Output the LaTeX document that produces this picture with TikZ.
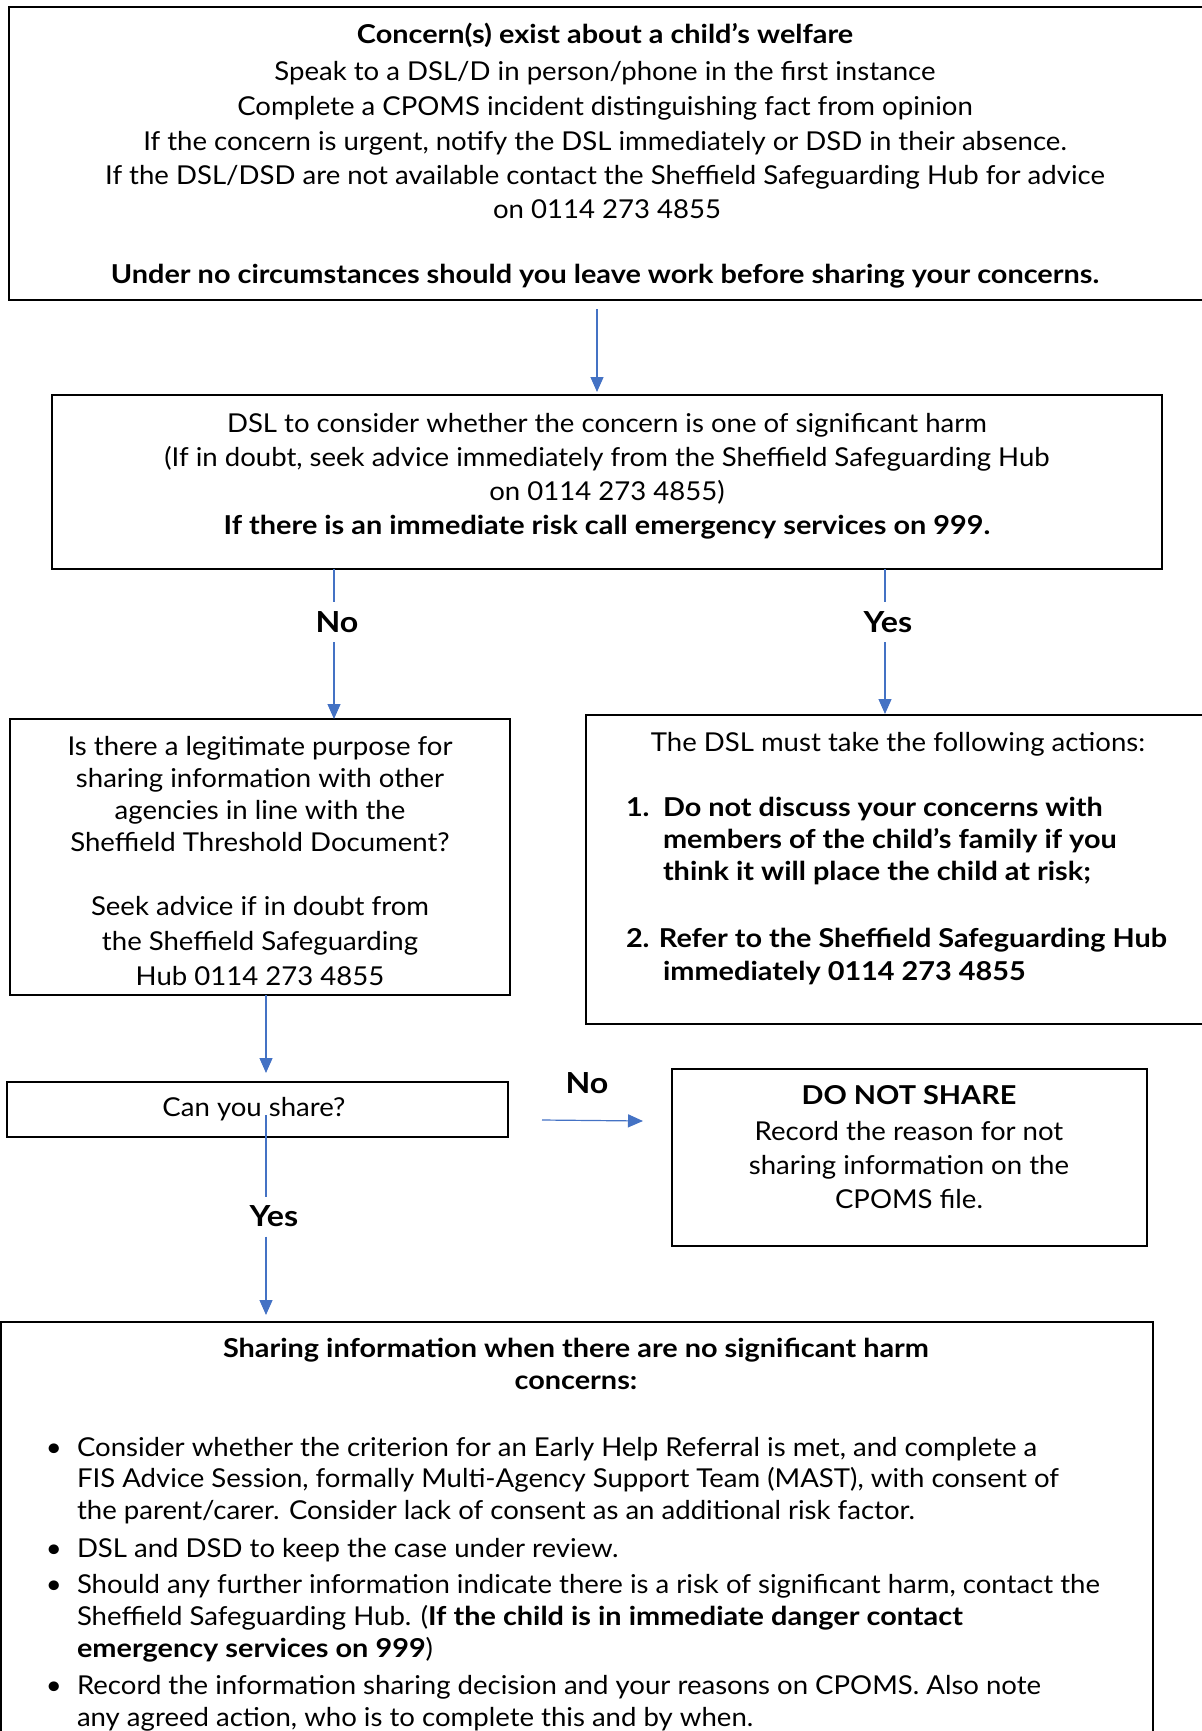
\documentclass[tikz,border=0pt]{standalone}
\usepackage{fontspec}
\setmainfont{Lato}[UprightFeatures={FakeStretch=1.06},BoldFeatures={FakeStretch=1.11}]
\usetikzlibrary{arrows.meta}
\definecolor{arrblue}{HTML}{4472C4}
\begin{document}
\begin{tikzpicture}[x=0.5pt,y=-0.5pt,
  box/.style={draw=black,line width=1pt,inner sep=0pt,outer sep=0pt,rectangle},
  txt/.style={inner sep=0pt,outer sep=0pt,anchor=base,font=\fontsize{13pt}{16pt}\selectfont},
  btxt/.style={txt,font=\fontsize{13pt}{16pt}\selectfont\bfseries},
  ltxt/.style={txt,anchor=base west},
  lbtxt/.style={btxt,anchor=base west},
  lbl/.style={inner sep=0pt,outer sep=0pt,font=\fontsize{14.5pt}{16pt}\selectfont\bfseries,minimum height=20pt},
  conn/.style={draw=arrblue,line width=0.6pt},
  arr/.style={conn,-{Triangle[length=7.5pt,width=6.5pt]}}
]
\useasboundingbox (0,0) rectangle (1201,1731);
% boxes
\node[box,minimum width=603pt,minimum height=146.5pt] (b1) at (612,153.5) {};
\node[box,minimum width=555pt,minimum height=87pt] (b2) at (607,482) {};
\node[box,minimum width=250pt,minimum height=138pt] (b3) at (260,857) {};
\node[box,minimum width=314.5pt,minimum height=154.5pt] (b4) at (900.5,869.5) {};
\node[box,minimum width=250.5pt,minimum height=27.5pt] (b5) at (257.5,1109.5) {};
\node[box,minimum width=237.5pt,minimum height=88.5pt] (b6) at (909.5,1157.5) {};
\node[box,minimum width=576pt,minimum height=214pt] (b7) at (577,1536) {};
% box 1 text
\node[btxt] (t1a) at (605,43) {Concern(s) exist about a child’s welfare};
\node[txt] (t1b) at (605,80) {Speak to a DSL/D in person/phone in the first instance};
\node[txt] (t1c) at (605,115) {Complete a CPOMS incident distinguishing fact from opinion};
\node[txt] (t1d) at (605,150) {If the concern is urgent, notify the DSL immediately or DSD in their absence.};
\node[txt] (t1e) at (605,184) {If the DSL/DSD are not available contact the Sheffield Safeguarding Hub for advice};
\node[txt] (t1f) at (607,218) {on 0114 273 4855};
\node[btxt] (t1g) at (605,283) {Under no circumstances should you leave work before sharing your concerns.};
% box 2 text
\node[txt] (t2a) at (607,432) {DSL to consider whether the concern is one of significant harm};
\node[txt] (t2b) at (607,466) {(If in doubt, seek advice immediately from the Sheffield Safeguarding Hub};
\node[txt] (t2c) at (607,500) {on 0114 273 4855)};
\node[btxt] (t2d) at (607,534) {If there is an immediate risk call emergency services on 999.};
% box 3 text
\node[txt] (t3a) at (260,755) {Is there a legitimate purpose for};
\node[txt] (t3b) at (260,787) {sharing information with other};
\node[txt] (t3c) at (260,819) {agencies in line with the};
\node[txt] (t3d) at (260,851) {Sheffield Threshold Document?};
\node[txt] (t3e) at (260,915) {Seek advice if in doubt from};
\node[txt] (t3f) at (260,950) {the Sheffield Safeguarding};
\node[txt] (t3g) at (260,985) {Hub 0114 273 4855};
% box 4 text
\node[txt] (t4a) at (898,751) {The DSL must take the following actions:};
\node[lbtxt] (t4n1) at (626,816) {1.};
\node[lbtxt] (t4b) at (663,816) {Do not discuss your concerns with};
\node[lbtxt] (t4c) at (663,848) {members of the child’s family if you};
\node[lbtxt] (t4d) at (663,880) {think it will place the child at risk;};
\node[lbtxt] (t4e) at (626,947) {2. Refer to the Sheffield Safeguarding Hub};
\node[lbtxt] (t4f) at (663,980) {immediately 0114 273 4855};
% box 5 text
\node[txt] (t5a) at (254,1116) {Can you share?};
% box 6 text
\node[btxt] (t6a) at (909,1104) {DO NOT SHARE};
\node[txt] (t6b) at (909,1140) {Record the reason for not};
\node[txt] (t6c) at (909,1174) {sharing information on the};
\node[txt] (t6d) at (909,1208) {CPOMS file.};
% box 7 text
\node[btxt] (t7a) at (576,1357) {Sharing information when there are no significant harm};
\node[btxt] (t7b) at (576,1389) {concerns:};
\node[ltxt] (bu1) at (46,1456) {\textbullet};
\node[ltxt] (bu2) at (46,1557) {\textbullet};
\node[ltxt] (bu3) at (46,1593) {\textbullet};
\node[ltxt] (bu4) at (46,1694) {\textbullet};
\node[ltxt] (t7c) at (77,1456) {Consider whether the criterion for an Early Help Referral is met, and complete a};
\node[ltxt] (t7d) at (77,1487) {FIS Advice Session, formally Multi-Agency Support Team (MAST), with consent of};
\node[ltxt] (t7e) at (77,1519) {the parent/carer. Consider lack of consent as an additional risk factor.};
\node[ltxt] (t7f) at (77,1557) {DSL and DSD to keep the case under review.};
\node[ltxt] (t7g) at (77,1593) {Should any further information indicate there is a risk of significant harm, contact the};
\node[ltxt] (t7h) at (77,1625) {Sheffield Safeguarding Hub. (\textbf{If the child is in immediate danger contact}};
\node[ltxt] (t7i) at (77,1657) {\textbf{emergency services on 999})};
\node[ltxt] (t7j) at (77,1694) {Record the information sharing decision and your reasons on CPOMS. Also note};
\node[ltxt] (t7k) at (77,1726) {any agreed action, who is to complete this and by when.};
% labels
\node[lbl] (l1) at (337,622) {No};
\node[lbl] (l2) at (888,622) {Yes};
\node[lbl,anchor=base] (l3) at (587,1093) {No};
\node[lbl] (l4) at (274,1216.5) {Yes};
% connectors
\coordinate (x1) at (597,0);
\coordinate (x2) at (334,0);
\coordinate (x3) at (885,0);
\coordinate (x4) at (266,0);
\draw[arr,shorten <=4.5pt,shorten >=1.5pt] (b1.south -| x1) -- (b2.north -| x1);
\draw[conn] (b2.south -| x2) -- (l1.north -| x2);
\draw[arr] (l1.south -| x2) -- (b3.north -| x2);
\draw[conn] (b2.south -| x3) -- (l2.north -| x3);
\draw[arr,shorten >=0.5pt] (l2.south -| x3) -- (b4.north -| x3);
\draw[arr,shorten >=4.5pt] (b3.south -| x4) -- (b5.north -| x4);
\coordinate (c5) at (266,1115);
\draw[conn] (c5) -- (l4.north -| x4);
\draw[arr,shorten >=3.5pt] (l4.south -| x4) -- (b7.north -| x4);
\coordinate (c6s) at (542,1120);
\coordinate (c6e) at (643,1121);
\draw[arr] (c6s) -- (c6e);
\end{tikzpicture}
\end{document}
